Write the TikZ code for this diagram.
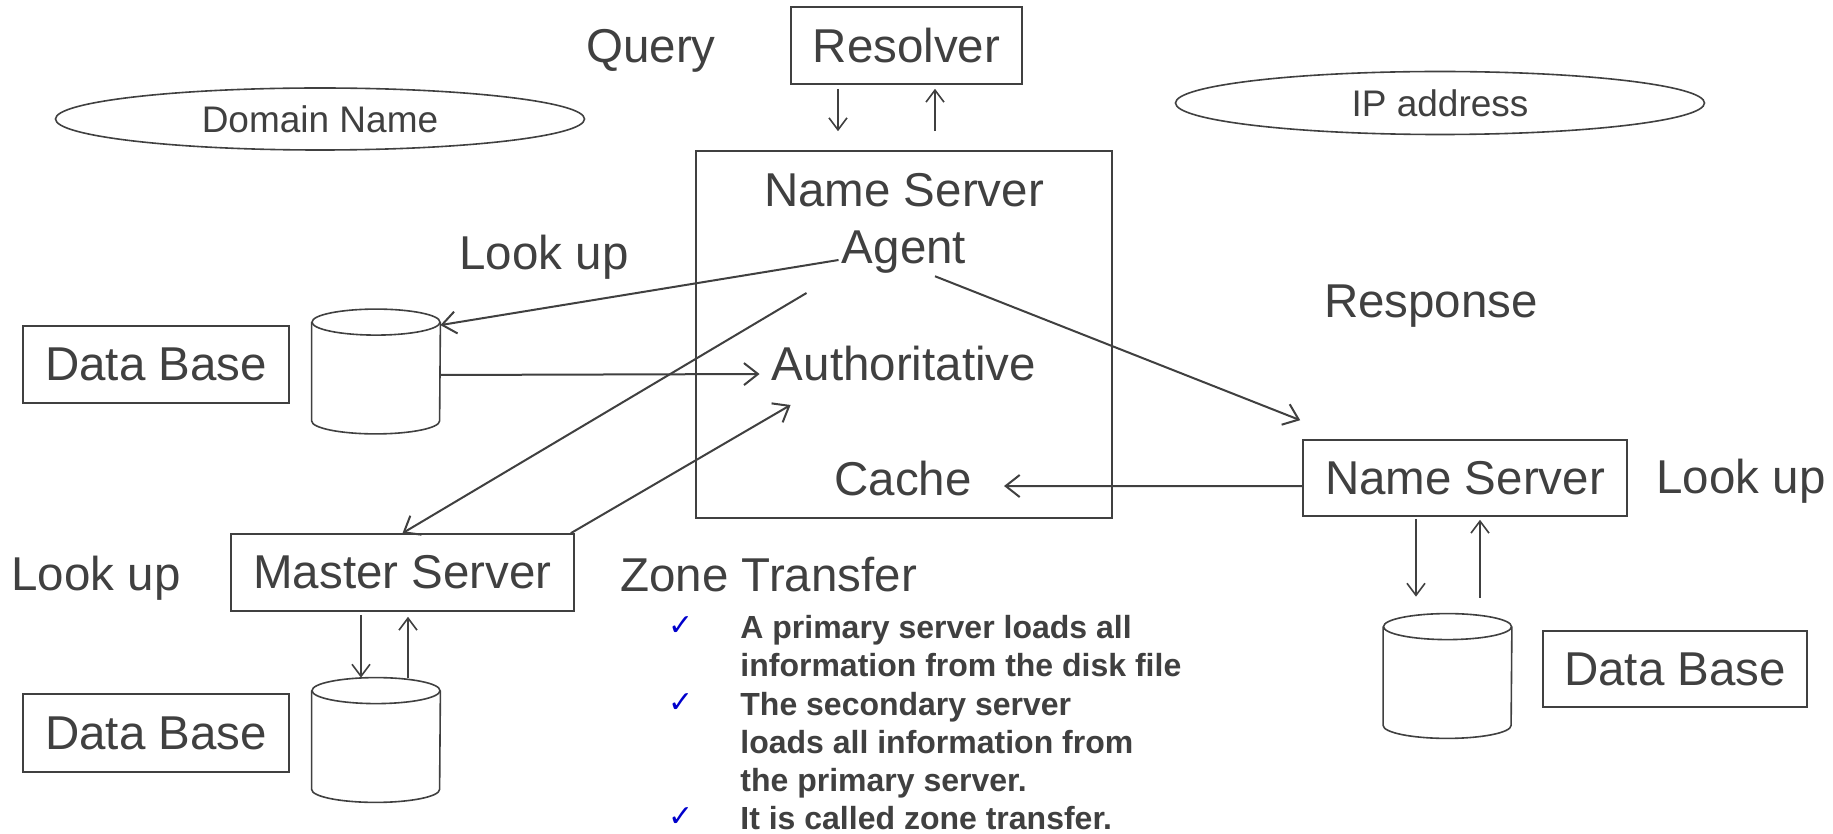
\documentclass[tikz,border=0pt]{standalone}
\usepackage{fontspec}
\setmainfont{Liberation Sans}
\newfontfamily\dejavu{DejaVu Sans}
\usetikzlibrary{arrows.meta,shapes.geometric}
\definecolor{ink}{HTML}{404040}
\definecolor{chk}{HTML}{0000CC}
\newcommand\drawcyl[1]{%
  \draw[line] ([yshift=-6.5pt]#1.north) ellipse [x radius=32pt, y radius=6.5pt];
  \draw[line] ([yshift=-6.5pt]#1.north west) -- ([yshift=6.5pt]#1.south west)
    arc[start angle=180, end angle=360, x radius=32pt, y radius=6.5pt]
    -- ([yshift=-6.5pt]#1.north east);}
\begin{document}
\begin{tikzpicture}[x=0.5pt,y=-0.5pt,
  bigfont/.style={font=\fontsize{23.75}{29}\selectfont, text=ink},
  smallfont/.style={font=\fontsize{18.5}{22}\selectfont, text=ink},
  lbl/.style={bigfont, inner sep=0, anchor=base},
  line/.style={draw=ink, line width=0.8pt},
  box/.style={line, bigfont, inner sep=0},
  oval/.style={line, ellipse, smallfont, inner sep=0},
  cylnode/.style={inner sep=0, minimum width=64pt, minimum height=62pt},
  arr/.style={line, -{Straight Barb[length=6pt,width=9pt]}},
  darr/.style={draw=ink, line width=1pt, -{Straight Barb[length=7pt,width=11pt]}},
  chkmark/.style={anchor=base, text=chk, font=\dejavu\fontsize{15}{15}\selectfont, inner sep=0},
  item/.style={anchor=base west, align=left, inner sep=0, text=ink,
    font=\bfseries\fontsize{16}{19}\selectfont}
]
\useasboundingbox (0,0) rectangle (1833,834);
\fill[white] (0,0) rectangle (1833,834);

% top
\node[box, minimum width=115.5pt, minimum height=38.5pt] (resolver) at (906.5,45.5) {Resolver};
\node[lbl] (query) at (651,63) {Query};
\node[oval, minimum width=264.5pt, minimum height=31pt] (domain) at (320,119) {Domain Name};
\node[oval, minimum width=264.5pt, minimum height=31.5pt] (ip) at (1440,103) {IP address};

% central name server agent
\node[line, minimum width=208pt, minimum height=183.5pt, inner sep=0] (agentbox) at (904,334.5) {};
\node[lbl] (nsname) at (904,207) {Name Server};
\node[lbl] (agent) at (904,264) {Agent};
\node[lbl] (auth) at (904,380) {Authoritative};
\node[lbl] (cache) at (903,495) {Cache};

% labels
\node[lbl] (lookup1) at (544,270) {Look up};
\node[lbl] (response) at (1431,318) {Response};
\node[lbl] (lookup2) at (1741,494) {Look up};
\node[lbl] (lookup3) at (96,590) {Look up};
\node[lbl, anchor=base west] (zone) at (620,591) {Zone Transfer};

% boxes
\node[box, minimum width=133pt, minimum height=38.5pt] (db1) at (156,364.5) {Data Base};
\node[box, minimum width=133pt, minimum height=39pt] (db2) at (156,733) {Data Base};
\node[box, minimum width=132pt, minimum height=38pt] (db3) at (1675,669) {Data Base};
\node[box, minimum width=171.5pt, minimum height=38.5pt] (master) at (402.5,572.5) {Master Server};
\node[box, minimum width=162pt, minimum height=38pt] (nsright) at (1465,478) {Name Server};

% cylinders
\node[cylnode] (cyl1) at (376,371.5) {};
\node[cylnode] (cyl2) at (376,740) {};
\node[cylnode] (cyl3) at (1447.5,676) {};
\drawcyl{cyl1}
\drawcyl{cyl2}
\drawcyl{cyl3}

% connectors
\draw[arr] ([xshift=-34.25pt,yshift=-2pt]resolver.south) -- ([xshift=-33pt,yshift=9.5pt]agentbox.north);
\draw[arr] ([xshift=15.5pt,yshift=9.5pt]agentbox.north) -- ([xshift=14.25pt,yshift=-2pt]resolver.south);
\draw[darr] ([xshift=-1.5pt,yshift=2pt]agent.base west) -- ([yshift=-8pt]cyl1.north east);
\draw[darr] ([yshift=-1.75pt]cyl1.east) -- ([xshift=-6pt,yshift=-5.5pt]auth.west);
\draw[darr] ([xshift=-17.5pt,yshift=-14.5pt]agent.base west) -- (master.north);
\draw[darr] ([xshift=-2pt]master.north east) -- ([xshift=9.5pt,yshift=-12.5pt]auth.base west);
\draw[darr] ([xshift=15.5pt,yshift=-1pt]agent.south) -- ([xshift=-1pt,yshift=9.5pt]nsright.north west);
\draw[darr] ([yshift=-4pt]nsright.west) -- ([xshift=16pt,yshift=-4pt]cache.east);
\draw[arr] ([xshift=-24.5pt,yshift=-1pt]nsright.south) -- ([xshift=-15.75pt,yshift=8.5pt]cyl3.north);
\draw[arr] ([xshift=16.25pt,yshift=8pt]cyl3.north) -- ([xshift=7.5pt,yshift=-1.5pt]nsright.south);
\draw[arr] ([xshift=-20.75pt,yshift=-1.5pt]master.south) -- ([xshift=-7.5pt]cyl2.north);
\draw[arr] ([xshift=16pt]cyl2.north) -- ([xshift=2.75pt,yshift=-2.5pt]master.south);

% bullet list
\node[chkmark] (c1) at (681,635) {✓};
\node[chkmark] (c2) at (681,712) {✓};
\node[chkmark] (c3) at (681,826) {✓};
\node[item] (t1) at (740,676) {A primary server loads all\\information from the disk file};
\node[item] (t2) at (740,791) {The secondary server\\loads all information from\\the primary server.};
\node[item] (t3) at (740,829) {It is called zone transfer.};
\end{tikzpicture}
\end{document}
